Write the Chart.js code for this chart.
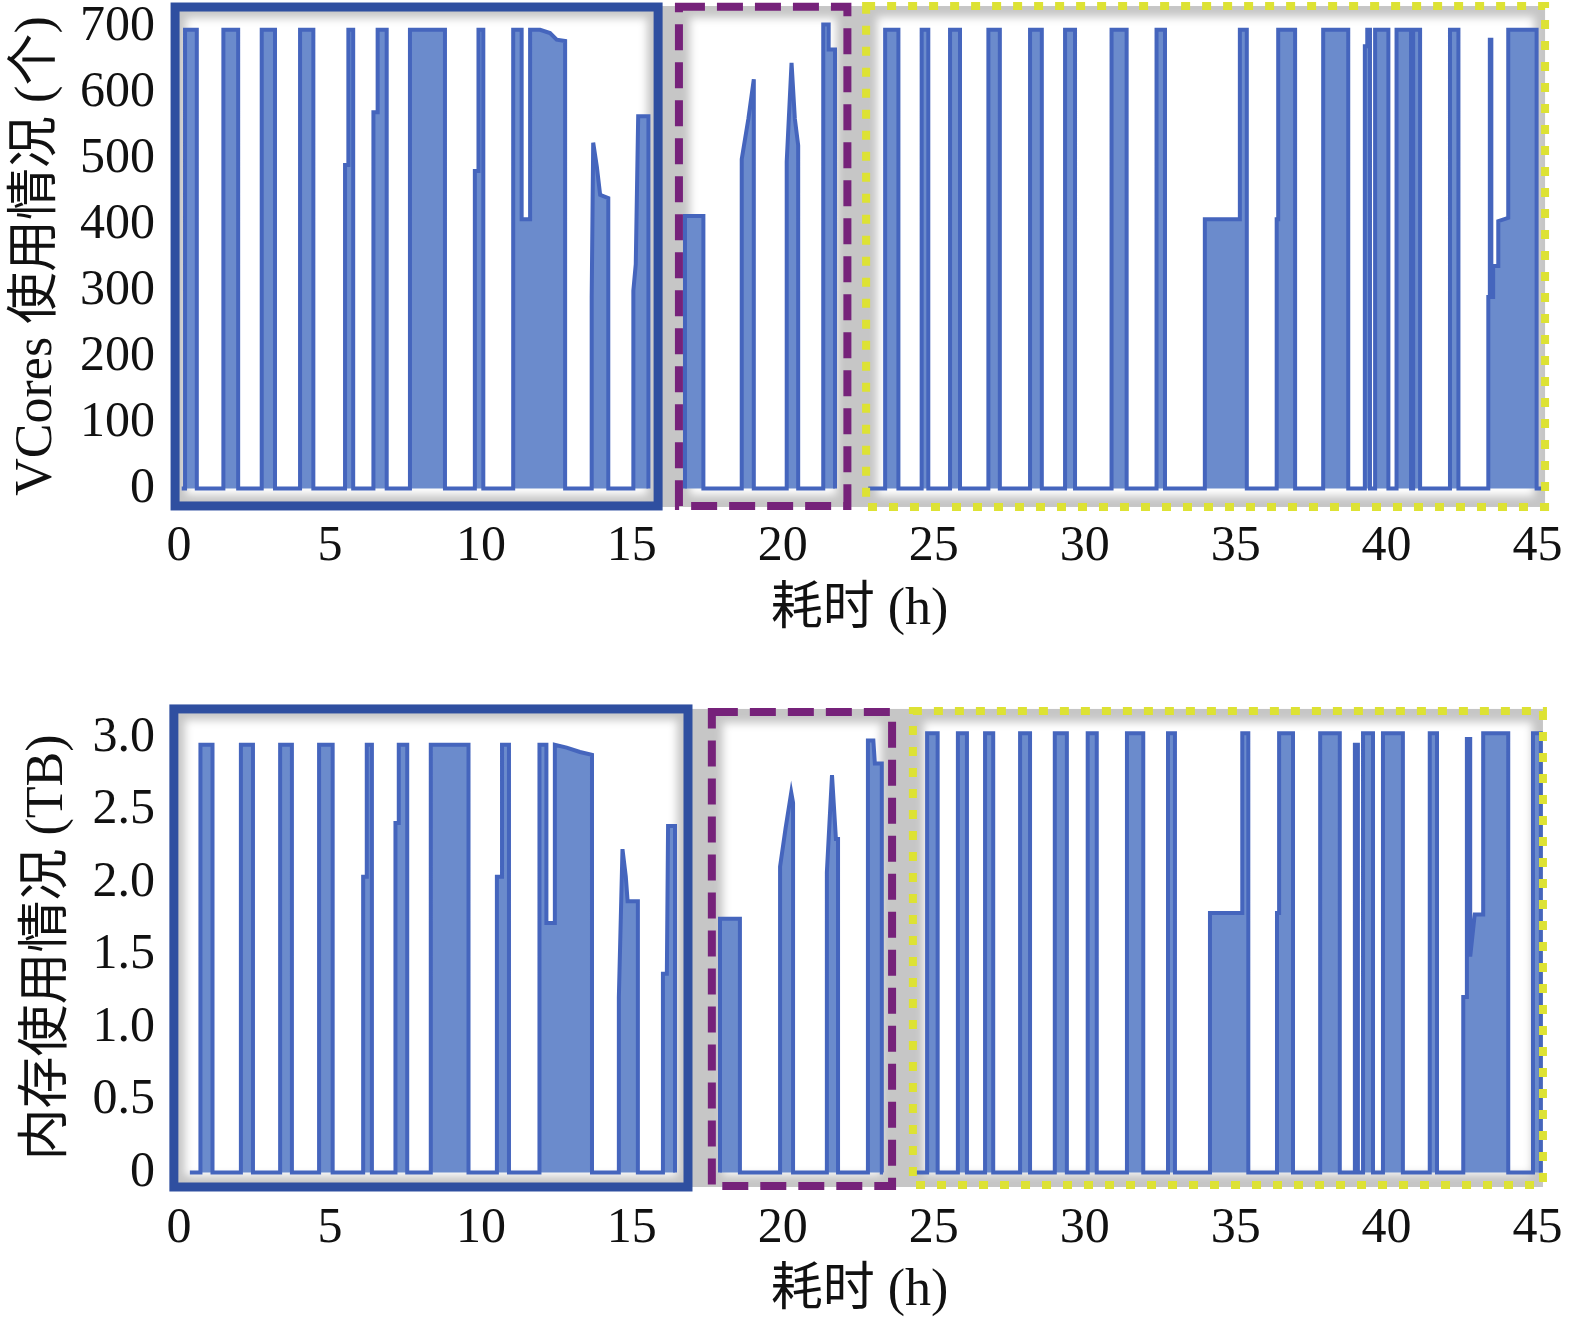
<!DOCTYPE html>
<html><head><meta charset="utf-8">
<script src="https://cdn.jsdelivr.net/npm/chart.js@4.4.1/dist/chart.umd.min.js"></script>
<style>
html,body{margin:0;padding:0;background:#fff;width:1575px;height:1327px;overflow:hidden;position:relative;}
#w1{position:absolute;left:0;top:-40px;width:1575px;height:700px;}
#w2{position:absolute;left:0;top:660px;width:1575px;height:667px;}
</style></head><body>
<div id="w1"><canvas id="c1"></canvas></div>
<div id="w2"><canvas id="c2"></canvas></div>
<script>
// ---- tick labels ----
const xTicks = [0, 5, 10, 15, 20, 25, 30, 35, 40, 45];
const cpuTicks = [0, 100, 200, 300, 400, 500, 600, 700];
const memTicks = [0, 0.5, 1.0, 1.5, 2.0, 2.5, 3.0];
const memTickLabels = ['0', '0.5', '1.0', '1.5', '2.0', '2.5', '3.0'];

// ---- VCores usage (hours, cores); null = gap between the three runs ----
const cpuHours = [
  0.09,
  0.20,0.20,0.59,0.59,
  1.47,1.47,1.96,1.96,
  2.74,2.74,3.18,3.18,
  4.01,4.01,4.45,4.45,
  5.50,5.50,5.61,5.61,5.77,5.77,
  6.44,6.44,6.58,6.58,6.88,6.88,
  7.65,7.65,8.81,8.81,
  9.80,9.80,9.92,9.92,10.08,10.08,
  11.07,11.07,11.35,11.35,11.63,11.63,11.96,12.29,12.51,12.79,12.79,
  13.67,13.67,13.72,13.84,13.95,14.22,14.22,
  15.05,15.05,15.13,15.21,15.55,15.55,
  16.17,
  16.76,16.76,17.37,17.37,
  18.64,18.64,18.86,19.04,19.04,
  20.13,20.13,20.29,20.40,20.51,20.51,
  21.34,21.34,21.52,21.52,21.73,21.73,
  22.23,
  22.83,
  23.39,23.39,23.83,23.83,
  24.60,24.60,24.82,24.82,
  25.54,25.54,25.87,25.87,
  26.81,26.81,27.19,27.19,
  28.19,28.19,28.58,28.58,
  29.35,29.35,29.68,29.68,
  30.89,30.89,31.39,31.39,
  32.38,32.38,32.66,32.66,
  33.98,33.98,35.14,35.14,35.37,35.37,
  36.36,36.36,36.41,36.41,36.97,36.97,
  37.90,37.90,38.73,38.73,
  39.28,39.28,39.36,39.36,39.45,39.45,
  39.62,39.62,40.06,40.06,
  40.33,40.33,40.81,40.81,40.88,40.88,41.11,41.11,
  42.10,42.10,42.38,42.38,
  43.37,43.37,43.42,43.42,43.47,43.47,43.53,43.53,43.70,43.70,44.03,44.03,44.97,44.97,
  45.14
];
const cpuValues = [
  0,
  0,695,695,0,
  0,695,695,0,
  0,695,695,0,
  0,695,695,0,
  0,490,490,695,695,0,
  0,570,570,695,695,0,
  0,695,695,0,
  0,481,481,695,695,0,
  0,695,695,408,408,695,695,690,680,678,0,
  0,290,524,488,445,440,0,
  0,300,340,564,564,0,
  null,
  0,413,413,0,
  0,499,560,620,0,
  0,495,645,560,520,0,
  0,703,703,665,665,0,
  null,
  0,
  0,695,695,0,
  0,695,695,0,
  0,695,695,0,
  0,695,695,0,
  0,695,695,0,
  0,695,695,0,
  0,695,695,0,
  0,695,695,0,
  0,408,408,695,695,0,
  0,408,408,695,695,0,
  0,695,695,0,
  0,670,670,695,695,0,
  0,695,695,0,
  0,695,695,0,0,695,695,0,
  0,695,695,0,
  0,290,290,680,680,290,290,337,337,405,410,695,695,0,
  0
];

// ---- Memory usage (hours, TB) ----
const memHours = [
  0.36,
  0.71,0.71,1.11,1.11,
  2.05,2.05,2.45,2.45,
  3.35,3.35,3.74,3.74,
  4.64,4.64,5.09,5.09,
  6.10,6.10,6.22,6.22,6.39,6.39,
  7.17,7.17,7.28,7.28,7.56,7.56,
  8.34,8.34,9.59,9.59,
  10.53,10.53,10.70,10.70,10.93,10.93,
  11.94,11.94,12.17,12.17,12.45,12.45,12.84,13.28,13.68,13.68,
  14.57,14.57,14.69,14.80,14.86,15.20,15.20,
  16.03,16.03,16.16,16.20,16.43,16.43,
  17.06,
  17.92,17.92,18.58,18.58,
  19.91,19.91,20.09,20.28,20.34,20.34,
  21.46,21.46,21.63,21.76,21.83,21.83,
  22.82,22.82,23.00,23.05,23.28,23.28,
  23.32,
  23.82,
  24.21,
  24.78,24.78,25.13,25.13,
  25.80,25.80,26.10,26.10,
  26.70,26.70,26.97,26.97,
  27.86,27.86,28.19,28.19,
  29.01,29.01,29.41,29.41,
  30.10,30.10,30.40,30.40,
  31.40,31.40,31.94,31.94,
  32.76,32.76,32.99,32.99,
  34.15,34.15,35.22,35.22,35.42,35.42,
  36.37,36.37,36.44,36.44,36.90,36.90,
  37.80,37.80,38.45,38.45,
  38.95,38.95,39.05,39.05,
  39.22,39.22,39.55,39.55,
  39.88,39.88,40.54,40.54,
  41.43,41.43,41.67,41.67,
  42.54,42.54,42.66,42.66,42.77,42.77,42.92,43.20,43.20,44.03,44.03,
  44.85,44.85,45.11,45.11
];
const memValues = [
  0,
  0,2.95,2.95,0,
  0,2.95,2.95,0,
  0,2.95,2.95,0,
  0,2.95,2.95,0,
  0,2.04,2.04,2.95,2.95,0,
  0,2.41,2.41,2.95,2.95,0,
  0,2.95,2.95,0,
  0,2.04,2.04,2.95,2.95,0,
  0,2.95,2.95,1.72,1.72,2.95,2.93,2.90,2.88,0,
  0,1.21,2.23,2.04,1.87,1.87,0,
  0,1.37,1.37,2.39,2.39,0,
  null,
  0,1.75,1.75,0,
  0,2.11,2.37,2.62,2.55,0,
  0,2.07,2.74,2.30,2.30,0,
  0,2.98,2.98,2.82,2.82,0,
  0,
  null,
  0,
  0,3.03,3.03,0,
  0,3.03,3.03,0,
  0,3.03,3.03,0,
  0,3.03,3.03,0,
  0,3.03,3.03,0,
  0,3.03,3.03,0,
  0,3.03,3.03,0,
  0,3.03,3.03,0,
  0,1.79,1.79,3.03,3.03,0,
  0,1.79,1.79,3.03,3.03,0,
  0,3.03,3.03,0,
  0,2.95,2.95,0,
  0,3.03,3.03,0,
  0,3.03,3.03,0,
  0,3.03,3.03,0,
  0,1.21,1.21,2.99,2.99,1.49,1.78,1.78,3.03,3.03,0,
  0,3.03,3.03,0
];

// ---- highlighted run regions [x1, x2, y1, y2] in axis units ----
const cpuRegions = [
  [-0.13, 15.87, -26.5, 729.5],
  [16.56, 22.14, -26.5, 730],
  [22.76, 45.25, -28, 731]
];
const memRegions = [
  [-0.17, 16.86, -0.100, 3.197],
  [17.65, 23.62, -0.093, 3.176],
  [24.31, 45.18, -0.086, 3.183]
];
const regionStyles = [
  {color: '#2f4fa0', width: 9, dash: []},
  {color: '#76227a', width: 8, dash: [26, 12]},
  {color: '#dde234', width: 8, dash: [9, 12]}
];

const serif = '"Liberation Serif", "Times New Roman", "Noto Sans CJK SC", serif';

function regionRects(chart, regions) {
  const xs = chart.scales.x, ys = chart.scales.y;
  return regions.map(r => ({
    l: xs.getPixelForValue(r[0]), r: xs.getPixelForValue(r[1]),
    t: ys.getPixelForValue(r[3]), b: ys.getPixelForValue(r[2])
  }));
}

const framePlugin = {
  id: 'frames',
  beforeDatasetsDraw(chart, args, opts) {
    const rects = regionRects(chart, opts.regions);
    const ctx = chart.ctx;
    ctx.save();
    const L = Math.min(...rects.map(r => r.l)), R = Math.max(...rects.map(r => r.r));
    const T = Math.min(...rects.map(r => r.t)), B = Math.max(...rects.map(r => r.b));
    ctx.fillStyle = '#c6c6c6';
    ctx.fillRect(L, T, R - L, B - T);
    ctx.filter = 'blur(4px)';
    ctx.fillStyle = '#ffffff';
    rects.forEach(r => ctx.fillRect(r.l + 11, r.t + 11, r.r - r.l - 22, r.b - r.t - 22));
    ctx.filter = 'none';
    ctx.restore();
  },
  afterDatasetsDraw(chart, args, opts) {
    const rects = regionRects(chart, opts.regions);
    const ctx = chart.ctx;
    ctx.save();
    rects.forEach((r, i) => {
      const s = regionStyles[i];
      ctx.strokeStyle = s.color;
      ctx.lineWidth = s.width;
      ctx.setLineDash(s.dash);
      ctx.lineCap = 'butt';
      ctx.lineJoin = 'miter';
      ctx.strokeRect(r.l, r.t, r.r - r.l, r.b - r.t);
    });
    ctx.restore();
  }
};

function zeroPad(s) { s.paddingLeft = 0; s.paddingRight = 0; s.paddingTop = 0; s.paddingBottom = 0; }

function makeChart(id, hours, values, cfg) {
  const pts = hours.map((h, i) => ({x: h, y: values[i]}));
  return new Chart(document.getElementById(id), {
    type: 'line',
    data: {datasets: [{
      data: pts,
      borderColor: '#4565bd',
      backgroundColor: '#6b8bcc',
      borderWidth: 4,
      pointRadius: 0,
      tension: 0,
      fill: 'origin',
      spanGaps: false
    }]},
    plugins: [framePlugin],
    options: {
      responsive: true,
      maintainAspectRatio: false,
      devicePixelRatio: 1,
      animation: false,
      layout: {padding: {top: cfg.padTop, right: 26, left: 0, bottom: 0}},
      plugins: {legend: {display: false}, tooltip: {enabled: false}, frames: {regions: cfg.regions}},
      scales: {
        x: {
          type: 'linear', min: -0.298, max: 45.38,
          grid: {display: false, drawTicks: false}, border: {display: false},
          afterBuildTicks: s => { s.ticks = xTicks.map(v => ({value: v})); },
          afterFit: s => { s.height = cfg.xHeight; zeroPad(s); },
          ticks: {autoSkip: false, maxRotation: 0, padding: cfg.xPad, color: '#111',
                  font: {family: serif, size: 50}, callback: v => String(v)},
          title: {display: true, text: '耗时 (h)', color: '#111',
                  font: {family: serif, size: 52}, padding: {top: 0, bottom: cfg.xTitlePad}}
        },
        y: {
          type: 'linear', min: cfg.yMin, max: cfg.yMax,
          grid: {display: false, drawTicks: false}, border: {display: false},
          afterBuildTicks: s => { s.ticks = cfg.yTicks.map(v => ({value: v})); },
          afterFit: s => { s.width = 170; zeroPad(s); },
          ticks: {autoSkip: false, padding: 15, color: '#111',
                  font: {family: serif, size: 50}, callback: cfg.yLabel},
          title: {display: true, text: cfg.yTitle, color: '#111',
                  font: {family: serif, size: 52}, padding: {top: cfg.yTitlePad, bottom: 0}}
        }
      }
    }
  });
}

makeChart('c1', cpuHours, cpuValues, {
  padTop: 42, xHeight: 150, xPad: 7, xTitlePad: 18,
  yMin: -32.6, yMax: 737.1, yTicks: cpuTicks,
  yLabel: v => String(v), yTitle: 'VCores 使用情况 (个)', yTitlePad: 6,
  regions: cpuRegions
});
makeChart('c2', memHours, memValues, {
  padTop: 43, xHeight: 135, xPad: 7, xTitlePad: 4,
  yMin: -0.1345, yMax: 3.238, yTicks: memTicks,
  yLabel: (v, i) => memTickLabels[i], yTitle: '内存使用情况 (TB)', yTitlePad: 17,
  regions: memRegions
});
</script>
</body></html>
